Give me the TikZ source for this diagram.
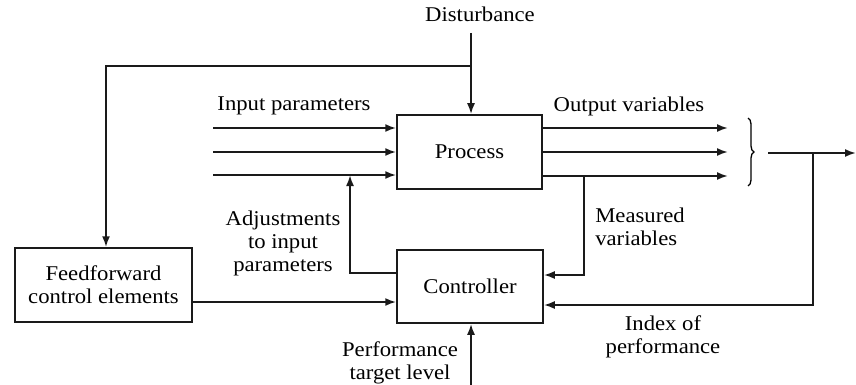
\documentclass[tikz,border=0pt]{standalone}
\usepackage{fontspec}
\setmainfont{Liberation Serif}[FakeStretch=1.08]
\usepackage{tikz}
\usetikzlibrary{arrows.meta,positioning,calc,decorations.pathreplacing}
\usepackage{xcolor}
\definecolor{pline}{HTML}{1A1A1A}
\tikzset{
  block/.style = {draw=pline, line width=1.5pt, rectangle, align=center,
                  inner sep=0pt},
  lbl/.style   = {align=center, inner sep=0pt},
  sig/.style   = {-{Latex[length=11pt,width=8pt]}, line width=1.9pt, draw=pline},
}

\begin{document}
\begin{tikzpicture}[x=1pt,y=-1pt,font=\fontsize{21}{23}\selectfont]
\useasboundingbox (0,0) rectangle (856,385);
% blocks
\node[block,minimum width=145pt,minimum height=74pt] (proc) at (469.5,152) {Process};
\node[block,minimum width=146pt,minimum height=73pt] (ctrl) at (470,286.5) {Controller};
\node[block,minimum width=177pt,minimum height=74pt] (ff) at (103.5,285)
  {Feedforward\\control elements};
% labels
\node[lbl] (dist) at (480,14) {Disturbance};
\node[lbl] (inlbl) at (294,106) {Input parameters};
\node[lbl] (outlbl) at (629,106) {Output variables};
\node[lbl,align=left] (meas) at (640,227) {Measured\\variables};
\node[lbl] (adjl) at (283,243) {Adjustments\\to input\\parameters};
\node[lbl] (idx) at (663,337) {Index of\\performance};
\node[lbl] (perf) at (400,363) {Performance\\target level};
% points on the wires
\coordinate (d0) at (471,33);
\coordinate (dj) at (471,66);
\coordinate (fj) at (106,66);
\coordinate (in1) at (213,128);
\coordinate (in2) at (213,152);
\coordinate (in3) at (213,175);
\coordinate (out1) at (728,128);
\coordinate (out2) at (728,152);
\coordinate (out3) at (728,176);
\coordinate (m0) at (584,176);
\coordinate (mv) at (584,275);
\coordinate (adj) at (350,273);
\coordinate (o0) at (768,153);
\coordinate (o1) at (856,153);
\coordinate (tap) at (813,153);
\coordinate (ip) at (813,305);
\coordinate (fc) at (192,302);
\coordinate (pt) at (471,385);
% process inputs and outputs
\draw[sig] (d0) -- (d0 |- proc.north);
\draw[sig] (dj) -- (fj) -- (fj |- ff.north);
\foreach \k in {1,2,3} {
  \draw[sig] (in\k) -- (in\k -| proc.west);
  \draw[sig] (out\k -| proc.east) -- (out\k);
}
\draw[line width=1.3pt,decorate,decoration={brace,amplitude=6pt}]
  (748,118) -- (748,186);
\draw[sig] (o0) -- (o1);
% feedback paths into the controller
\draw[sig] (tap) -- (ip) -- (ip -| ctrl.east);
\draw[sig] (m0) -- (mv) -- (mv -| ctrl.east);
\draw[sig] (adj -| ctrl.west) -- (adj) -- (adj |- in3);
\draw[sig] (fc) -- (fc -| ctrl.west);
\draw[sig] (pt) -- (pt |- ctrl.south);
\end{tikzpicture}
\end{document}
